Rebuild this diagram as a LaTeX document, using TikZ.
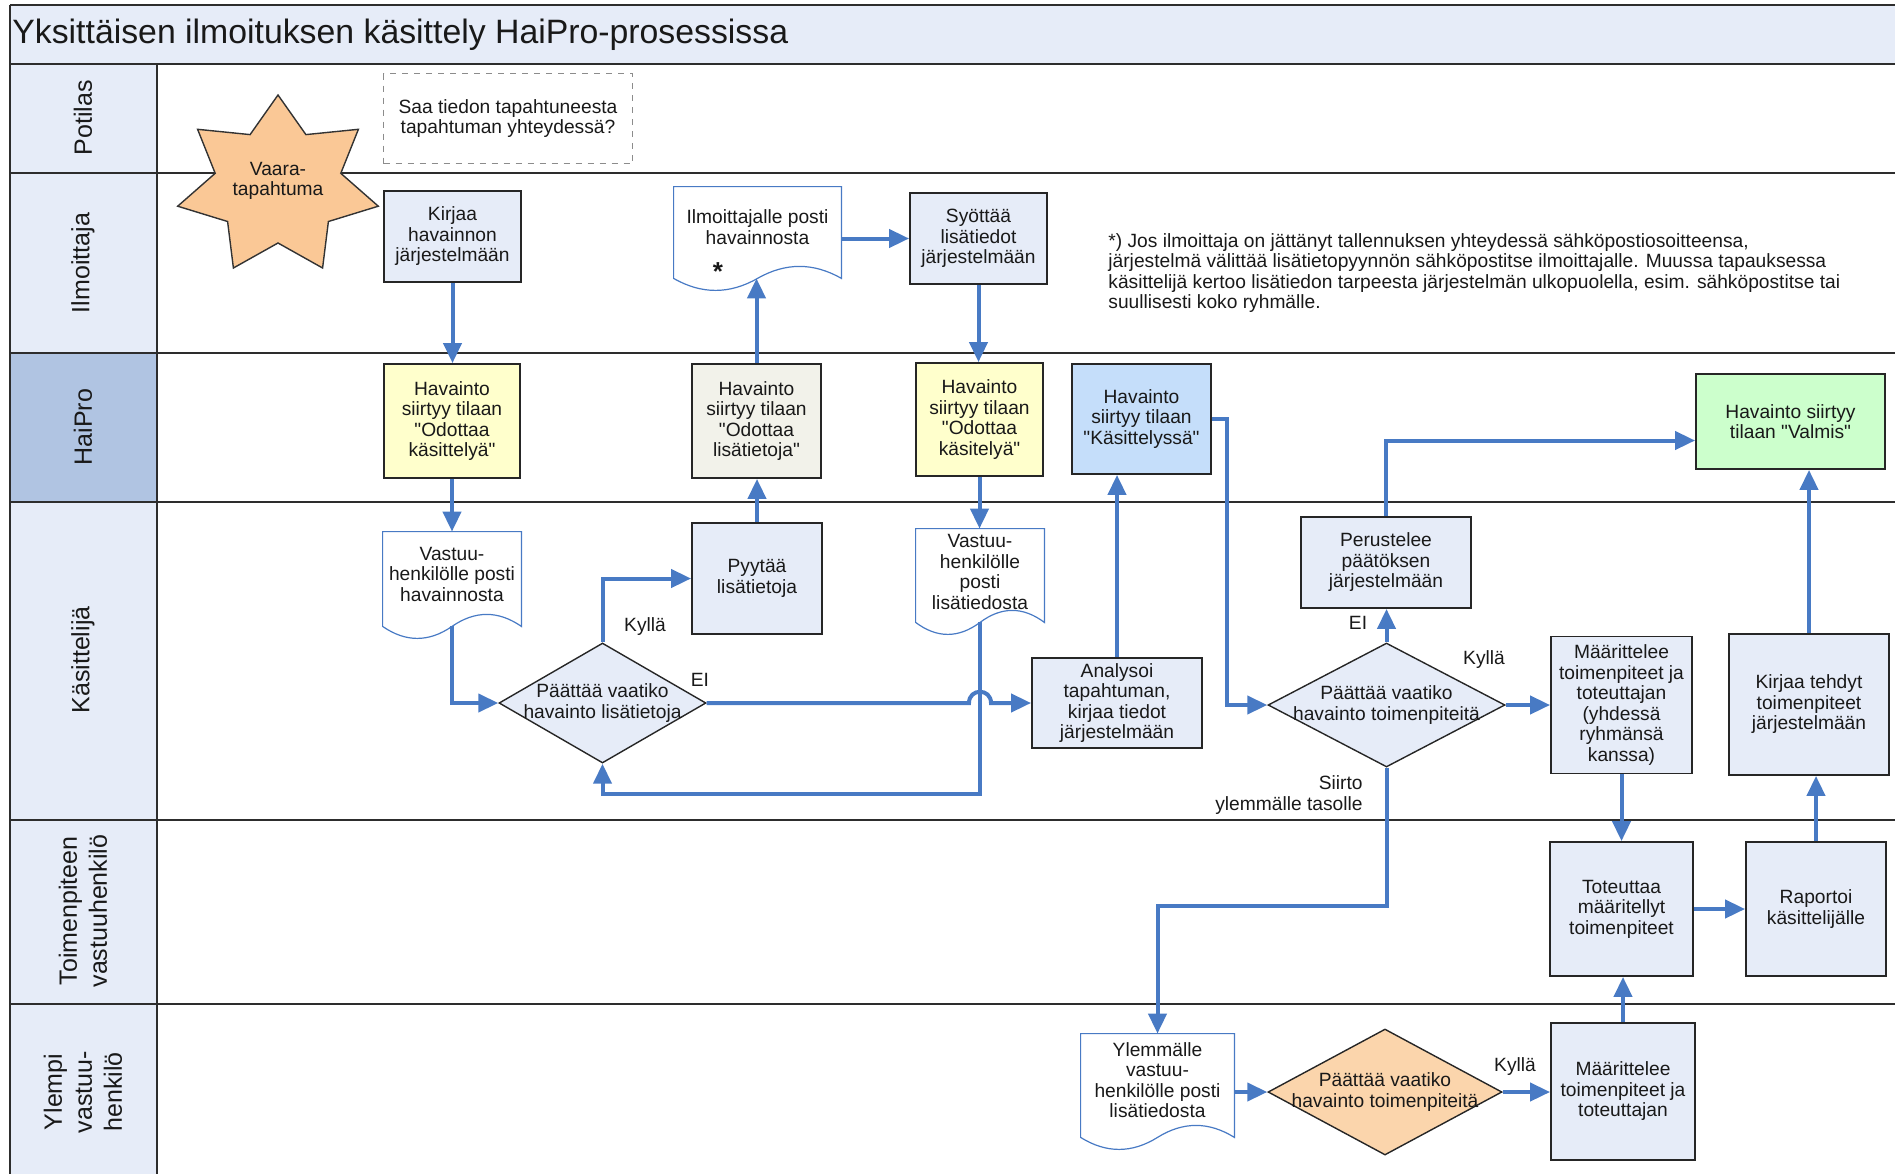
\documentclass[tikz,border=0pt]{standalone}
\usepackage{fontspec}
\setmainfont{Liberation Sans}
\newfontfamily\qfont{Liberation Sans}
\usetikzlibrary{arrows.meta,calc,shapes.geometric}
\definecolor{conn}{RGB}{72,122,196}
\definecolor{boxfill}{RGB}{230,236,248}
\definecolor{lanefill}{RGB}{230,236,248}
\definecolor{haifill}{RGB}{176,196,226}
\definecolor{yel}{RGB}{255,255,204}
\definecolor{grayfill}{RGB}{242,242,234}
\definecolor{bluefill}{RGB}{197,222,250}
\definecolor{greenfill}{RGB}{204,255,204}
\definecolor{orangefill}{RGB}{251,213,172}
\definecolor{starfill}{RGB}{250,200,150}
\definecolor{framec}{RGB}{45,45,45}
\newcommand\qq{{\qfont"}}
\newcommand\docoutline[1]{%
  \draw[docline] (#1.south west) -- (#1.north west) -- (#1.north east) -- (#1.south east)
   .. controls ($(#1.south east)!0.3333!(#1.south)+(0,-16)$) and ($(#1.south east)!0.6667!(#1.south)+(0,-16)$) .. (#1.south)
   .. controls ($(#1.south)!0.3333!(#1.south west)+(0,16)$) and ($(#1.south)!0.6667!(#1.south west)+(0,16)$) .. (#1.south west) -- cycle;}
\begin{document}
\begin{tikzpicture}[x=0.5pt,y=-0.5pt,
  every node/.style={font=\fontsize{9.6}{10.25}\selectfont, text=black!90},
  box/.style={draw=black!85, line width=0.9pt, fill=boxfill, rectangle, align=center, inner sep=1pt},
  docnode/.style={rectangle, align=center, inner sep=1pt},
  docline/.style={draw=conn, line width=0.6pt},
  dia/.style={diamond, draw=black!85, line width=0.7pt, fill=boxfill, inner sep=0pt},
  dtext/.style={align=center},
  flow/.style={draw=conn, line width=2pt, -{Triangle[length=10pt,width=9pt]}},
  lbl/.style={inner sep=0pt},
  lanelabel/.style={rotate=90, font=\fontsize{12.5}{15}\selectfont, align=center},
  laneline/.style={draw=framec, line width=1.4pt}
]
\path[use as bounding box] (0,0) rectangle (1895,1173);
% backgrounds
\fill[lanefill] (10,5) rectangle (1900,64);
\fill[lanefill] (10,64) rectangle (157,1180);
\fill[haifill] (10,353) rectangle (157,502);
% frame lines
\foreach \yy in {5,64,173,353,502,820,1004} {\draw[laneline] (10,\yy) -- (1900,\yy);}
\draw[laneline] (10,5) -- (10,1180);
\draw[draw=framec, line width=0.8pt] (157,64) -- (157,1180);
% title and lane labels
\node[anchor=base west, inner sep=0pt, font=\fontsize{16.9}{18}\selectfont] (title) at (12,43) {Yksittäisen ilmoituksen käsittely HaiPro-prosessissa};
\node[lanelabel] (lpot) at (83,118) {Potilas};
\node[lanelabel] (lilm) at (83,263) {Ilmoittaja};
\node[lanelabel] (lhai) at (83,427) {HaiPro};
\node[lanelabel] (lkas) at (83,660) {Käsittelijä};
\node[lanelabel] (ltoi) at (83,911) {Toimenpiteen\\vastuuhenkilö};
\node[lanelabel] (lyle) at (83,1092) {Ylempi\\vastuu-\\henkilö};
% star
\draw[draw=black!80, line width=0.7pt, fill=starfill]
  (278,95) -- (250.1,134.6) -- (197.6,129.3) -- (215.2,173.3) -- (177.7,206.2) -- (227.6,221.5) -- (233.4,268)
  -- (278,243) -- (322.6,268) -- (328.4,221.5) -- (378.3,206.2) -- (340.8,173.3) -- (358.4,129.3) -- (305.9,134.6) -- cycle;
\node[align=center] (vaara) at (278,181) {Vaara-\\tapahtuma};
% dashed note
\node[draw=black!45, dashed, line width=0.6pt, align=center, minimum width=124.5pt, minimum height=45pt] (saa) at (508,118.5) {Saa tiedon tapahtuneesta\\tapahtuman yhteydessä?};
% Ilmoittaja lane
\node[box, minimum width=68.5pt, minimum height=45.5pt] (kirjaa) at (452.5,236.5) {Kirjaa\\havainnon\\järjestelmään};
\node[docnode, minimum width=83.5pt, minimum height=45.5pt] (docI) at (757.5,232.5) {};
\docoutline{docI}
\node[align=center] (docItext) at (757.5,227) {Ilmoittajalle posti\\havainnosta};
\node[font=\fontsize{13}{13}\selectfont\bfseries] (docIstar) at (718,272) {*};
\node[box, minimum width=68.5pt, minimum height=45.5pt] (syottaa) at (978.5,238.5) {Syöttää\\lisätiedot\\järjestelmään};
\node[anchor=north west, align=left, inner sep=0pt] (note) at (1108,233) {*) Jos ilmoittaja on jättänyt tallennuksen yhteydessä sähköpostiosoitteensa,\\järjestelmä välittää lisätietopyynnön sähköpostitse ilmoittajalle. Muussa tapauksessa\\käsittelijä kertoo lisätiedon tarpeesta järjestelmän ulkopuolella, esim. sähköpostitse tai\\suullisesti koko ryhmälle.};
% HaiPro lane
\node[box, fill=yel, minimum width=68pt, minimum height=57pt] (h1) at (452,421) {Havainto\\siirtyy tilaan\\\qq Odottaa\\käsittelyä\qq};
\node[box, fill=grayfill, minimum width=64.5pt, minimum height=57pt] (h2) at (756.5,421) {Havainto\\siirtyy tilaan\\\qq Odottaa\\lisätietoja\qq};
\node[box, fill=yel, minimum width=63.5pt, minimum height=56.5pt] (h3) at (979.5,419.5) {Havainto\\siirtyy tilaan\\\qq Odottaa\\käsitelyä\qq};
\node[box, fill=bluefill, minimum width=69.5pt, minimum height=55pt] (h4) at (1141.5,419) {Havainto\\siirtyy tilaan\\\qq Käsittelyssä\qq};
\node[box, fill=greenfill, minimum width=94.5pt, minimum height=47.5pt] (valmis) at (1790.5,421.5) {Havainto siirtyy\\tilaan \qq Valmis\qq};
% Kasittelija lane
\node[docnode, minimum width=69pt, minimum height=47pt] (doc1) at (452,579) {};
\docoutline{doc1}
\node[align=center] (doc1text) at (452,574) {Vastuu-\\henkilölle posti\\havainnosta};
\node[box, minimum width=65pt, minimum height=55.5pt] (pyytaa) at (757,578.5) {Pyytää\\lisätietoja};
\node[docnode, minimum width=64pt, minimum height=46.5pt] (doc2) at (980,575.5) {};
\docoutline{doc2}
\node[align=center] (doc2text) at (980,572) {Vastuu-\\henkilölle\\posti\\lisätiedosta};
\node[dia, minimum width=103.5pt, minimum height=60pt, label={[dtext]center:{Päättää vaatiko\\havainto lisätietoja}}] (d1) at (602.5,703) {};
\node[box, minimum width=85pt, minimum height=45pt] (analysoi) at (1117,703) {Analysoi\\tapahtuman,\\kirjaa tiedot\\järjestelmään};
\node[box, minimum width=85pt, minimum height=45.5pt] (perustelee) at (1386,562.5) {Perustelee\\päätöksen\\järjestelmään};
\node[dia, minimum width=118.5pt, minimum height=62pt, label={[dtext]center:{Päättää vaatiko\\havainto toimenpiteitä}}] (d2) at (1386.5,705) {};
\node[box, minimum width=70.5pt, minimum height=68.5pt] (maar1) at (1621.5,705) {Määrittelee\\toimenpiteet ja\\toteuttajan\\(yhdessä\\ryhmänsä\\kanssa)};
\node[box, minimum width=80pt, minimum height=70.5pt] (kirjaa2) at (1809,704.5) {Kirjaa tehdyt\\toimenpiteet\\järjestelmään};
% Toimenpiteen lane
\node[box, minimum width=71.5pt, minimum height=67pt] (toteuttaa) at (1621.5,909) {Toteuttaa\\määritellyt\\toimenpiteet};
\node[box, minimum width=70pt, minimum height=67pt] (raportoi) at (1816,909) {Raportoi\\käsittelijälle};
% Ylempi lane
\node[docnode, minimum width=76.5pt, minimum height=51.5pt] (doc3) at (1157.5,1085.5) {};
\docoutline{doc3}
\node[align=center] (doc3text) at (1157.5,1080) {Ylemmälle\\vastuu-\\henkilölle posti\\lisätiedosta};
\node[dia, fill=orangefill, minimum width=117pt, minimum height=63pt, label={[dtext]center:{Päättää vaatiko\\havainto toimenpiteitä}}] (d3) at (1385,1092) {};
\node[box, minimum width=72pt, minimum height=68.5pt] (maar2) at (1623,1091.5) {Määrittelee\\toimenpiteet ja\\toteuttajan};
% edge labels
\node[lbl] (ky1) at (645,627) {Kyllä};
\node[lbl] (ei1) at (700,680) {EI};
\node[lbl] (ei2) at (1358,623) {EI};
\node[lbl] (ky2) at (1484,660) {Kyllä};
\node[lbl, anchor=east, align=right] (siirto) at (1363,795) {Siirto\\ylemmälle tasolle};
\node[lbl] (ky3) at (1515,1067) {Kyllä};
% connectors
\draw[flow] (kirjaa.south) -- (kirjaa.south |- h1.north);
\draw[flow] (h1.south) -- (h1.south |- doc1.north);
\draw[flow] (doc1.south) |- (d1.west);
\draw[flow] (d1.north) |- (pyytaa.west);
\draw[flow] (pyytaa.north) -- (pyytaa.north |- h2.south);
\draw[flow] (h2.north) -- (h2.north |- docI.south);
\draw[flow] (docI.east |- syottaa.west) -- (syottaa.west);
\draw[flow] (syottaa.south) -- (syottaa.south |- h3.north);
\draw[flow] (h3.south) -- (h3.south |- doc2.north);
\coordinate (loopy) at (0,794);
\draw[flow] (doc2.south) -- (doc2.south |- loopy) -| (d1.south);
\coordinate (hopc) at (doc2.south |- d1.east);
\draw[flow] (d1.east) -- ($(hopc)+(-11,0)$) .. controls ($(hopc)+(-11,-15)$) and ($(hopc)+(11,-15)$) .. ($(hopc)+(11,0)$) -- (analysoi.west);
\draw[flow] (analysoi.north) -- (analysoi.north |- h4.south);
\coordinate (turn1) at (1227,560);
\draw[flow] (h4.east) -| (turn1) |- (d2.west);
\draw[flow] (d2.north) -- (d2.north |- perustelee.south);
\draw[flow] (perustelee.north) |- ($(valmis.west)+(0,19)$);
\draw[flow] (d2.east) -- (d2.east -| maar1.west);
\coordinate (lvl) at (0,906);
\draw[flow] (d2.south) -- (d2.south |- lvl) -| (doc3.north);
\draw[flow] (maar1.south) -- (maar1.south |- toteuttaa.north);
\draw[flow] (doc3.east |- d3.west) -- (d3.west);
\draw[flow] (d3.east) -- (d3.east -| maar2.west);
\draw[flow] (maar2.north) -- (maar2.north |- toteuttaa.south);
\draw[flow] (toteuttaa.east) -- (toteuttaa.east -| raportoi.west);
\draw[flow] (raportoi.north) -- (raportoi.north |- kirjaa2.south);
\draw[flow] (kirjaa2.north) -- (kirjaa2.north |- valmis.south);
\end{tikzpicture}
\end{document}
